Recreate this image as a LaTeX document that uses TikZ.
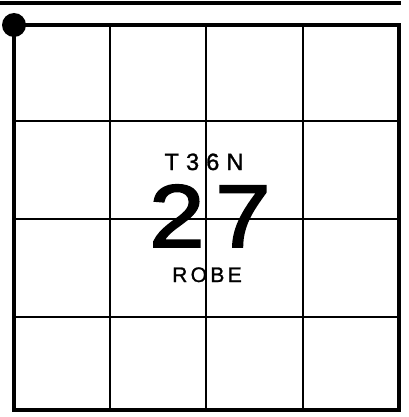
\documentclass[tikz,border=0pt]{standalone}
\usepackage{fontspec}
\setmainfont{Liberation Sans}
\newfontfamily\twpfont[LetterSpace=30,FakeBold=1.2]{Liberation Sans}
\newfontfamily\secfont[LetterSpace=12,FakeStretch=1.12,FakeBold=2.2]{Liberation Sans}
\newfontfamily\rgefont[LetterSpace=16,FakeBold=1.2]{Liberation Sans}
\usepackage{tikz}

\begin{document}
\begin{tikzpicture}[x=1pt,y=-1pt,
          every node/.style={inner sep=0pt,anchor=base},
          border/.style={line width=4.5pt,line cap=rect},
          grid/.style={line width=2pt},
        ]
        \useasboundingbox (0,0) rectangle (408,417);
        % section grid
        \draw[line width=3.5pt] (0,3) -- (401,3);
        \foreach \x in {110,206,303}
          \draw[grid] (\x,25) -- (\x,410);
        \foreach \y in {121,219,317}
          \draw[grid] (14,\y) -- (399,\y);
        \draw[border] (14,25) rectangle (399,410);
        \fill (14,25) circle (12pt);
        % labels
        \node[font=\twpfont\fontsize{23.6}{28}\selectfont] (twp) at (204,170) {T36N};
        \node[font=\secfont\fontsize{89}{100}\selectfont] (sec) at (210,247) {27};
        \node[font=\rgefont\fontsize{21}{25}\selectfont] (rge) at (207,282) {ROBE};
      \end{tikzpicture}
\end{document}
